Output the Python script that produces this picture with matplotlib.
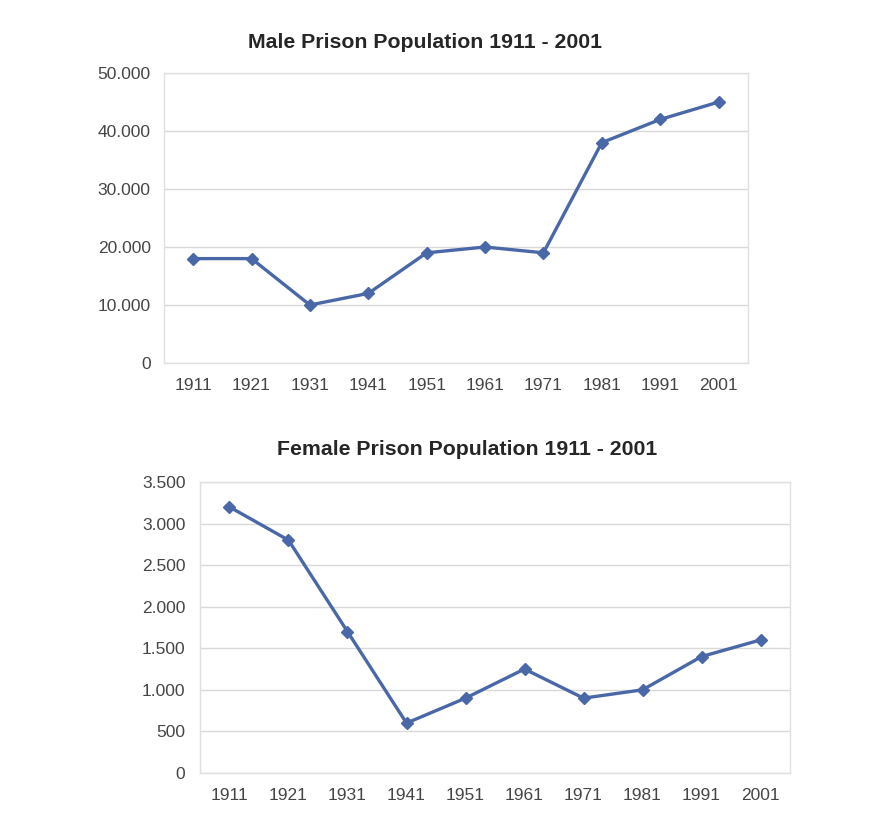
import matplotlib
matplotlib.use("Agg")
import matplotlib.pyplot as plt
from matplotlib.ticker import FuncFormatter

years = ["1911", "1921", "1931", "1941", "1951", "1961", "1971", "1981", "1991", "2001"]
male_values = [18000, 18000, 10000, 12000, 19000, 20000, 19000, 38000, 42000, 45000]
female_values = [3200, 2800, 1700, 600, 900, 1250, 900, 1000, 1400, 1600]
male_ticks = [0, 10000, 20000, 30000, 40000, 50000]
female_ticks = [0, 500, 1000, 1500, 2000, 2500, 3000, 3500]
male_title = "Male Prison Population 1911 - 2001"
female_title = "Female Prison Population 1911 - 2001"

plt.rcParams['font.family'] = ['Liberation Sans', 'DejaVu Sans']

LINE = "#4a68a8"
GRID = "#d9d9d9"
TICK = "#454545"

def fmt(v, pos):
    return f"{int(v):,}".replace(",", ".")

fig = plt.figure(figsize=(8.94, 8.19), dpi=100)
fig.patch.set_facecolor("white")

def style(ax, values, ticks, ypad):
    x = list(range(len(years)))
    ax.plot(x, values, color=LINE, lw=2.4, marker="D", ms=6, mfc=LINE, mec=LINE, zorder=3)
    ax.set_xlim(-0.5, len(years) - 0.5)
    ax.set_ylim(ticks[0], ticks[-1])
    ax.set_yticks(ticks)
    ax.yaxis.set_major_formatter(FuncFormatter(fmt))
    ax.set_xticks(x)
    ax.set_xticklabels(years)
    ax.grid(axis="y", color=GRID, lw=1)
    ax.set_axisbelow(True)
    for s in ax.spines.values():
        s.set_color("#e0e0e0")
        s.set_linewidth(1)
    ax.tick_params(length=0, colors=TICK)
    ax.tick_params(axis="y", labelsize=12.5, pad=ypad)
    ax.tick_params(axis="x", labelsize=12.5, pad=11)
    ax.set_facecolor("none")

ax1 = fig.add_axes([0.1834, 0.5568, 0.653, 0.354])
style(ax1, male_values, male_ticks, 9.5)
ax2 = fig.add_axes([0.2237, 0.0562, 0.66, 0.3553])
style(ax2, female_values, female_ticks, 10.5)

fig.text(424.5 / 894, 1 - 42 / 819, male_title, ha="center", va="center",
         fontsize=15.3, fontweight="bold", color="#262626")
fig.text(467.5 / 894, 1 - 449 / 819, female_title, ha="center", va="center",
         fontsize=15.3, fontweight="bold", color="#262626")

fig.savefig("out.png", dpi=100)
